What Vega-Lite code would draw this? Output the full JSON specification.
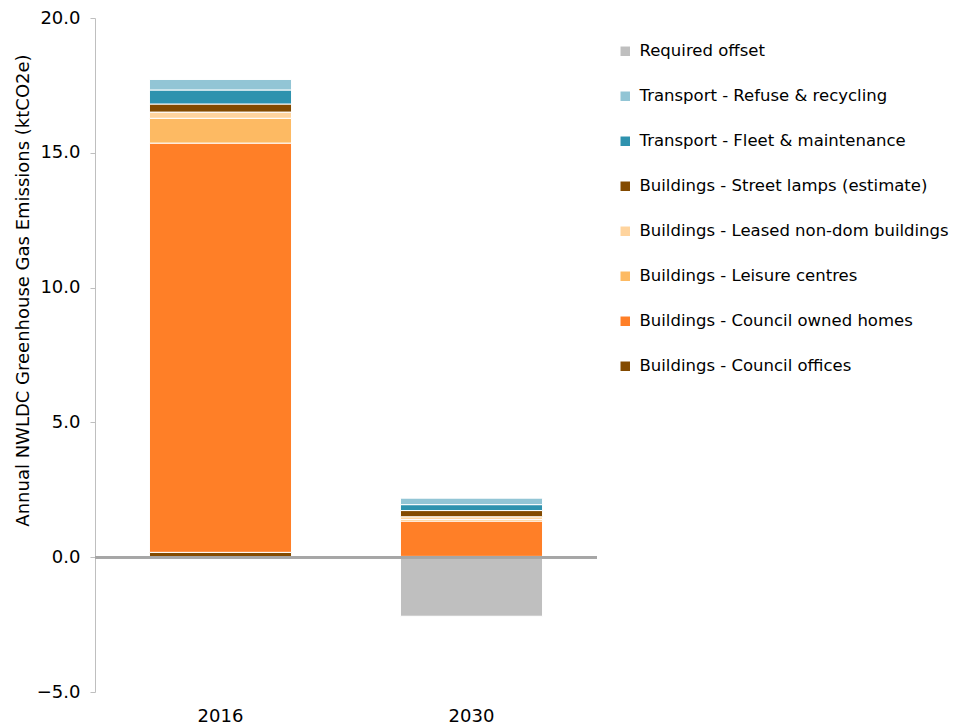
{
  "$schema": "https://vega.github.io/schema/vega-lite/v6.json",
  "width": 502,
  "height": 674,
  "autosize": {"type": "none"},
  "padding": {"left": 95, "top": 18, "right": 360, "bottom": 36},
  "background": "white",
  "config": {
    "view": {"stroke": null},
    "font": "DejaVu Sans"
  },
  "data": {
    "values": [
      {"year": "2016", "series": "Buildings - Council offices", "k": 1, "value": 0.18},
      {"year": "2016", "series": "Buildings - Council owned homes", "k": 2, "value": 15.18},
      {"year": "2016", "series": "Buildings - Leisure centres", "k": 3, "value": 0.92},
      {"year": "2016", "series": "Buildings - Leased non-dom buildings", "k": 4, "value": 0.23},
      {"year": "2016", "series": "Buildings - Street lamps (estimate)", "k": 5, "value": 0.30},
      {"year": "2016", "series": "Transport - Fleet & maintenance", "k": 6, "value": 0.52},
      {"year": "2016", "series": "Transport - Refuse & recycling", "k": 7, "value": 0.40},
      {"year": "2016", "series": "Required offset", "k": 8, "value": 0},
      {"year": "2030", "series": "Buildings - Council offices", "k": 1, "value": 0.03},
      {"year": "2030", "series": "Buildings - Council owned homes", "k": 2, "value": 1.31},
      {"year": "2030", "series": "Buildings - Leisure centres", "k": 3, "value": 0.06},
      {"year": "2030", "series": "Buildings - Leased non-dom buildings", "k": 4, "value": 0.10},
      {"year": "2030", "series": "Buildings - Street lamps (estimate)", "k": 5, "value": 0.23},
      {"year": "2030", "series": "Transport - Fleet & maintenance", "k": 6, "value": 0.22},
      {"year": "2030", "series": "Transport - Refuse & recycling", "k": 7, "value": 0.24},
      {"year": "2030", "series": "Required offset", "k": 8, "value": -2.19}
    ]
  },
  "layer": [
    {
      "mark": {"type": "bar", "stroke": "white", "strokeWidth": 1},
      "encoding": {
        "x": {
          "field": "year",
          "type": "nominal",
          "scale": {"paddingInner": 0.434, "paddingOuter": 0.217},
          "axis": {
            "title": null,
            "domain": false,
            "ticks": false,
            "labelAngle": 0,
            "labelPadding": 15,
            "labelFontSize": 18,
            "labelColor": "#000000"
          }
        },
        "y": {
          "field": "value",
          "type": "quantitative",
          "stack": "zero",
          "scale": {"domain": [-5, 20], "nice": false, "zero": false},
          "axis": {
            "title": "Annual NWLDC Greenhouse Gas Emissions (ktCO2e)",
            "titleFontSize": 18,
            "titleFontWeight": "normal",
            "titleColor": "#000000",
            "titleX": -63,
            "titleY": 272,
            "values": [-5, 0, 5, 10, 15, 20],
            "format": ".1f",
            "grid": false,
            "domainColor": "#BFBFBF",
            "domainWidth": 1,
            "tickColor": "#BFBFBF",
            "tickSize": 5,
            "labelFontSize": 18,
            "labelColor": "#000000",
            "labelPadding": 10
          }
        },
        "color": {
          "field": "series",
          "type": "nominal",
          "scale": {
            "domain": [
              "Required offset",
              "Transport - Refuse & recycling",
              "Transport - Fleet & maintenance",
              "Buildings - Street lamps (estimate)",
              "Buildings - Leased non-dom buildings",
              "Buildings - Leisure centres",
              "Buildings - Council owned homes",
              "Buildings - Council offices"
            ],
            "range": ["#BFBFBF", "#92C5D5", "#2E92AE", "#834A00", "#FFD49E", "#FDBA63", "#FF7F27", "#834A00"]
          },
          "legend": {
            "title": null,
            "orient": "none",
            "legendX": 522,
            "legendY": 25,
            "symbolType": "square",
            "symbolSize": 90,
            "symbolStrokeWidth": 0,
            "labelFontSize": 16.5,
            "labelColor": "#000000",
            "labelOffset": 6,
            "labelLimit": 400,
            "rowPadding": 28
          }
        },
        "order": {"field": "k", "type": "quantitative", "sort": "ascending"}
      }
    },
    {
      "mark": {"type": "rule", "color": "#A6A6A6", "strokeWidth": 2},
      "encoding": {"y": {"datum": 0}}
    }
  ]
}
